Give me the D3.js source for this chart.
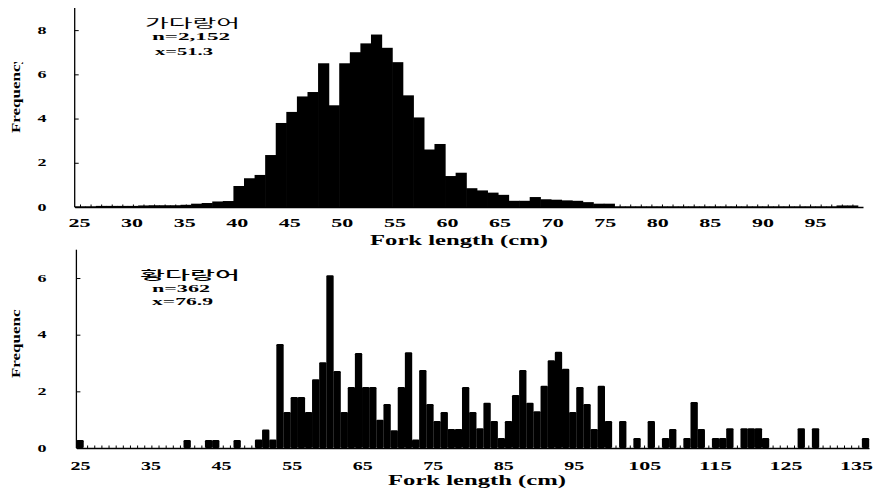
<!DOCTYPE html>
<html>
<head>
<meta charset="utf-8">
<script src="https://cdnjs.cloudflare.com/ajax/libs/d3/7.8.5/d3.min.js"></script>
<style>
  body { margin: 0; background: #fff; }
  svg { display: block; }
</style>
</head>
<body>
<div id="chart"></div>
<script>
// Skipjack (top) - 1 cm bins starting at 25 cm, frequency in %
const topStart = 25;
const topFreq = [
  0.03, 0.03, 0.05, 0.05, 0.05, 0.05, 0.07, 0.08, 0.08, 0.08,   // 25-34
  0.1, 0.15, 0.18, 0.25, 0.27, 0.95, 1.3, 1.45, 2.35, 3.8,      // 35-44
  4.3, 5.0, 5.2, 6.5, 4.6, 6.5, 7.0, 7.4, 7.8, 7.2,             // 45-54
  6.55, 5.05, 4.05, 2.6, 2.85, 1.4, 1.55, 0.85, 0.75, 0.65,     // 55-64
  0.55, 0.28, 0.28, 0.45, 0.35, 0.33, 0.3, 0.28, 0.22, 0.15,    // 65-74
  0.15, 0.03, 0.03, 0.03, 0.03, 0.03, 0.03, 0.03, 0.03, 0.03,   // 75-84
  0.03, 0.03, 0.03, 0.03, 0.03, 0.03, 0.03, 0.03, 0.03, 0.03,   // 85-94
  0.03, 0.03, 0.07, 0.07                                        // 95-98
];
const topTicks = [25, 30, 35, 40, 45, 50, 55, 60, 65, 70, 75, 80, 85, 90, 95];
const topYTicks = [0, 2, 4, 6, 8];
const topNotes = ["가다랑어", "n=2,152", "x=51.3"];

// Yellowfin (bottom) - 1 cm bins starting at 25 cm
const botStart = 25;
const botFreq = [
  0.28, 0, 0, 0, 0, 0, 0, 0, 0, 0,                              // 25-34
  0, 0, 0, 0, 0, 0.28, 0, 0, 0.28, 0.28,                        // 35-44
  0, 0, 0.28, 0, 0, 0.3, 0.65, 0.3, 3.67, 1.27,                 // 45-54
  1.8, 1.8, 1.27, 2.43, 3.03, 6.1, 2.72, 1.27, 2.15, 3.35,      // 55-64
  2.15, 2.15, 1.0, 1.55, 0.63, 2.15, 3.38, 0.3, 2.75, 1.55,     // 65-74
  0.95, 1.27, 0.67, 0.67, 2.15, 1.27, 0.7, 1.6, 0.95, 0.35,     // 75-84
  0.95, 1.87, 2.75, 1.6, 1.3, 2.2, 3.1, 3.4, 2.8, 1.27,         // 85-94
  2.15, 1.55, 0.67, 2.2, 0.95, 0, 0.95, 0, 0.35, 0,             // 95-104
  0.95, 0, 0.35, 0.67, 0, 0.35, 1.62, 0.67, 0, 0.35,            // 105-114
  0.35, 0.7, 0, 0.7, 0.7, 0.7, 0.35, 0, 0, 0,                   // 115-124
  0, 0.7, 0, 0.7, 0, 0, 0, 0, 0, 0,                             // 125-134
  0.35                                                          // 135
];
const botTicks = [25, 35, 45, 55, 65, 75, 85, 95, 105, 115, 125, 135];
const botYTicks = [0, 2, 4, 6];
const botNotes = ["황다랑어", "n=362", "x=76.9"];

const serif = "'Liberation Serif', 'Times New Roman', serif";

const svg = d3.select("#chart").append("svg")
    .attr("width", 878)
    .attr("height", 489);

function drawPanel(p) {
    const g = svg.append("g");

    const x = d3.scaleLinear().domain(p.xDomain).range(p.xRange);
    const y = d3.scaleLinear().domain(p.yDomain).range(p.yRange);
    // the printed tick labels sit slightly off the bar grid
    const xl = d3.scaleLinear().domain(p.labelDomain).range(p.labelRange);
    const bw = x(1) - x(0);

    const bins = p.freq.map((f, i) => ({ len: p.start + i, f: f }));

    // bars
    g.selectAll("rect.bar")
        .data(bins.filter(d => d.f > 0))
        .enter().append("rect")
        .attr("class", "bar")
        .attr("x", d => x(d.len - 0.5))
        .attr("width", bw + (p.rounded ? 0.2 : 0.6))
        .attr("y", d => y(d.f))
        .attr("height", d => y(0) - y(d.f))
        .attr("rx", p.rounded ? 1.2 : 0)
        .style("fill", "#000");

    // minor ticks every cm along the base line
    const minor = d3.range(p.xDomain[0] + 0.5, p.xDomain[1], 1);
    g.append("g")
        .attr("transform", "translate(0," + y(0) + ")")
        .call(d3.axisBottom(x).tickValues(minor).tickSizeInner(-2.5).tickSizeOuter(0).tickFormat(""))
        .call(a => a.select(".domain").attr("stroke-width", 1.3));

    // x labels
    const xa = g.append("g")
        .attr("transform", "translate(0," + y(0) + ")")
        .call(d3.axisBottom(xl).tickValues(p.xTicks).tickSize(0));
    xa.select(".domain").remove();
    xa.selectAll("text")
        .attr("y", p.xLabelBase)
        .attr("dy", 0)
        .style("font-family", serif)
        .style("font-weight", "bold")
        .style("font-size", "12px")
        .style("fill", "#000")
        .attr("textLength", d => d >= 100 ? p.w3 : p.w2)
        .attr("lengthAdjust", "spacingAndGlyphs");

    // y axis
    const ya = g.append("g")
        .attr("transform", "translate(" + p.xRange[0] + ",0)")
        .call(d3.axisRight(y).tickValues(p.yTicks).tickSize(4).tickFormat(""));
    ya.select(".domain").attr("d", "M0," + y(0) + "V" + y(p.yDomain[1])).attr("stroke-width", 1.3);

    g.selectAll("text.ytick")
        .data(p.yTicks)
        .enter().append("text")
        .attr("class", "ytick")
        .attr("x", 42)
        .attr("y", d => y(d) + 3.5)
        .attr("text-anchor", "middle")
        .attr("textLength", 9)
        .attr("lengthAdjust", "spacingAndGlyphs")
        .style("font-family", serif)
        .style("font-weight", "bold")
        .style("font-size", "10px")
        .text(d => d);

    // x axis title
    g.append("text")
        .attr("x", p.titleX)
        .attr("y", p.titleBase)
        .attr("textLength", 178)
        .attr("lengthAdjust", "spacingAndGlyphs")
        .style("font-family", serif)
        .style("font-weight", "bold")
        .style("font-size", "14px")
        .text("Fork length (cm)");

    // y axis title, its end is cut off as in the original
    const clipId = "clip" + p.id;
    svg.append("clipPath").attr("id", clipId)
        .append("rect")
        .attr("x", 0).attr("y", p.yTitleCut)
        .attr("width", 40).attr("height", 120);
    g.append("g")
        .attr("clip-path", "url(#" + clipId + ")")
        .append("text")
        .attr("transform", "translate(20," + p.yTitleBottom + ") rotate(-90)")
        .attr("textLength", 77)
        .attr("lengthAdjust", "spacingAndGlyphs")
        .style("font-family", serif)
        .style("font-weight", "bold")
        .style("font-size", "12px")
        .text("Frequency");

    // notes
    g.append("text")
        .attr("x", p.notes[0][0]).attr("y", p.notes[0][1])
        .attr("textLength", p.notes[0][2])
        .attr("lengthAdjust", "spacingAndGlyphs")
        .style("font-family", "'Noto Sans CJK KR', sans-serif")
        .style("font-weight", p.korWeight)
        .style("font-size", "12px")
        .text(p.text[0]);
    [1, 2].forEach(k => {
        g.append("text")
            .attr("x", p.notes[k][0]).attr("y", p.notes[k][1])
            .attr("textLength", p.notes[k][2])
            .attr("lengthAdjust", "spacingAndGlyphs")
            .style("font-family", serif)
            .style("font-weight", "bold")
            .style("font-size", "11px")
            .text(p.text[k]);
    });
}

drawPanel({
    id: "top",
    freq: topFreq, start: topStart,
    xDomain: [24.5, 99], xRange: [74.7, 863],
    labelDomain: [25, 95], labelRange: [79, 815],
    yDomain: [0, 9], yRange: [207, 8],
    xTicks: topTicks, yTicks: topYTicks,
    xLabelBase: 20, w2: 22, w3: 30,
    titleX: 370, titleBase: 245,
    yTitleBottom: 133, yTitleCut: 62,
    notes: [[145, 28, 95], [152, 40, 78], [155, 55, 58]],
    text: topNotes, korWeight: 400,
    rounded: false
});

drawPanel({
    id: "bot",
    freq: botFreq, start: botStart,
    xDomain: [24.5, 135.5], xRange: [76.4, 869],
    labelDomain: [25, 135], labelRange: [80, 856],
    yDomain: [0, 7], yRange: [448, 249.7],
    xTicks: botTicks, yTicks: botYTicks,
    xLabelBase: 22, w2: 20, w3: 33,
    titleX: 388, titleBase: 485,
    yTitleBottom: 378, yTitleCut: 309,
    notes: [[140, 280, 100], [152, 292, 58], [152, 305, 61]],
    text: botNotes, korWeight: 500,
    rounded: true
});
</script>
</body>
</html>
